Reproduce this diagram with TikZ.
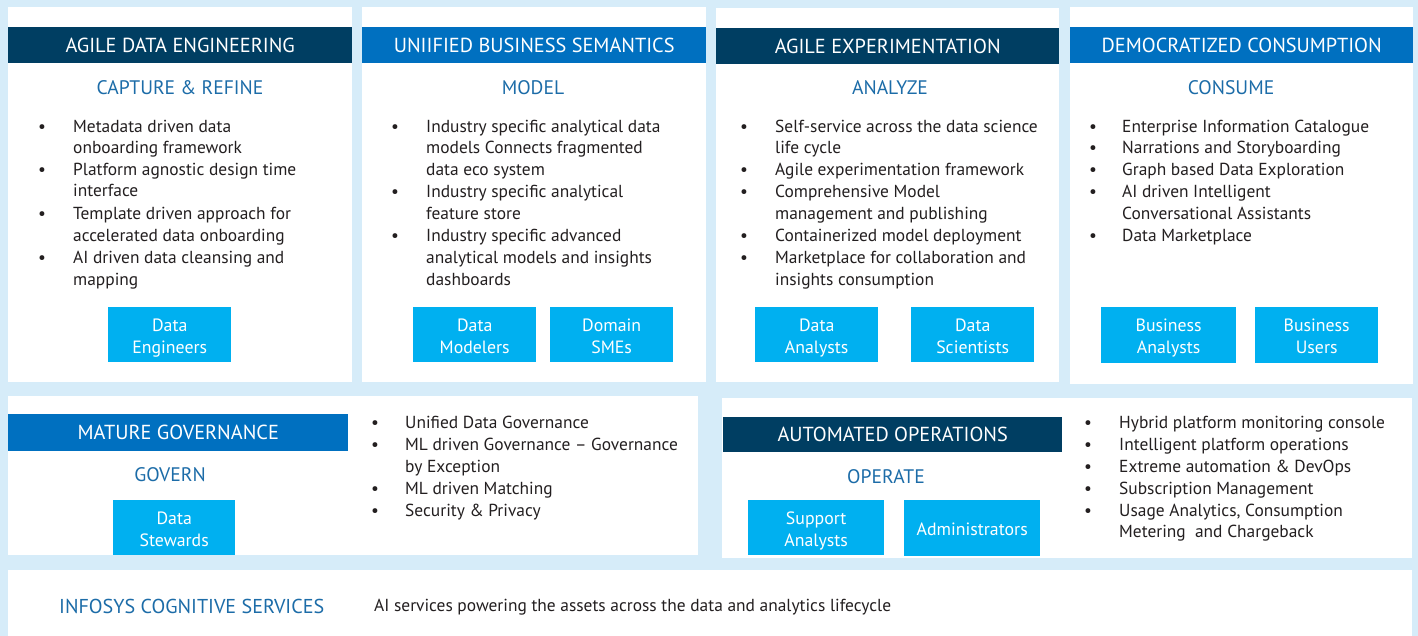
\documentclass[tikz,border=0pt]{standalone}
\usepackage{fontspec}
\setmainfont{PT Sans}
\definecolor{bg}{RGB}{214,236,249}
\definecolor{navy}{RGB}{0,62,98}
\definecolor{hblue}{RGB}{0,112,192}
\definecolor{cyanbox}{RGB}{0,176,240}
\definecolor{subt}{RGB}{28,108,168}
\definecolor{txt}{RGB}{35,31,32}
\newcommand\bul[4]{\node[btxt,anchor=base west] at (#1,#3+7) {\textbullet}; \node[btxt,anchor=base west] at (#2,#3+7) {#4};}
\newcommand\cnl[3]{\node[btxt,anchor=base west] at (#1,#2+7) {#3};}
\newcommand\rolebox[6]{\node[role,minimum width=#3pt,minimum height=#4pt] (#5) at (#1,#2) {};
 \node[roletxt] at ([yshift=-3pt]#5.center) {#6};}
\begin{document}
\begin{tikzpicture}[x=1pt,y=-1pt,
 hdrbox/.style={anchor=north west,inner sep=0pt,text=white,font=\fontsize{20.3}{22}\selectfont},
 navyhdr/.style={hdrbox,fill=navy},
 bluehdr/.style={hdrbox,fill=hblue},
 subtitle/.style={text=subt,font=\fontsize{19.6}{22}\selectfont,inner sep=0pt},
 btxt/.style={text=txt,font=\fontsize{17.4}{20}\selectfont,inner sep=0pt},
 role/.style={anchor=north west,inner sep=0pt,fill=cyanbox},
 roletxt/.style={inner sep=0pt,text=white,align=center,font=\fontsize{17.8}{22}\selectfont},
]
\fill[bg] (0,0) rectangle (1418,636);
\useasboundingbox (0,0) rectangle (1418,636);
% panels
\fill[white] (8,7) rectangle (352,382);
\fill[white] (362,7) rectangle (706,382);
\fill[white] (716,8) rectangle (1059,382);
\fill[white] (1070,7) rectangle (1413,384);
\fill[white] (8,396) rectangle (698,555);
\fill[white] (722,398) rectangle (1412,558);
\fill[white] (8,570) rectangle (1412,636);
% headers
\node[navyhdr,minimum width=344pt,minimum height=36pt] (h1) at (8,27) {AGILE DATA ENGINEERING};
\node[bluehdr,minimum width=344pt,minimum height=36pt] (h2) at (362,27) {UNIIFIED BUSINESS SEMANTICS};
\node[navyhdr,minimum width=343pt,minimum height=36pt] (h3) at (716,28) {AGILE EXPERIMENTATION};
\node[bluehdr,minimum width=343pt,minimum height=36pt] (h4) at (1070,27) {DEMOCRATIZED CONSUMPTION};
\node[bluehdr,minimum width=340pt,minimum height=37pt] (h5) at (8,414) {MATURE GOVERNANCE};
\node[navyhdr,minimum width=339pt,minimum height=35pt] (h6) at (723,417) {AUTOMATED OPERATIONS};
% subtitles
\node[subtitle] (s1) at (180,88) {CAPTURE \& REFINE};
\node[subtitle] (s2) at (533,88) {MODEL};
\node[subtitle] (s3) at (890,88) {ANALYZE};
\node[subtitle] (s4) at (1231,88) {CONSUME};
\node[subtitle] (s5) at (170,475) {GOVERN};
\node[subtitle] (s6) at (886,477) {OPERATE};
\node[subtitle,anchor=west,font=\fontsize{20.1}{22}\selectfont] (s7) at (59,606) {INFOSYS COGNITIVE SERVICES};
\node[btxt,anchor=west] (t7) at (374,607) {AI services powering the assets across the data and analytics lifecycle};
% panel 1 bullets
\bul{38}{73}{126}{Metadata driven data}
\cnl{73}{147}{onboarding framework}
\bul{38}{73}{169}{Platform agnostic design time}
\cnl{73}{190}{interface}
\bul{38}{73}{213}{Template driven approach for}
\cnl{73}{235}{accelerated data onboarding}
\bul{38}{73}{257}{AI driven data cleansing and}
\cnl{73}{278}{mapping}
% panel 2
\bul{391}{426}{126}{Industry specific analytical data}
\cnl{426}{147}{models Connects fragmented}
\cnl{426}{169}{data eco system}
\bul{391}{426}{191}{Industry specific analytical}
\cnl{426}{213}{feature store}
\bul{391}{426}{235}{Industry specific advanced}
\cnl{426}{257}{analytical models and insights}
\cnl{426}{278}{dashboards}
% panel 3
\bul{740}{775}{126}{Self-service across the data science}
\cnl{775}{147}{life cycle}
\bul{740}{775}{169}{Agile experimentation framework}
\bul{740}{775}{191}{Comprehensive Model}
\cnl{775}{213}{management and publishing}
\bul{740}{775}{235}{Containerized model deployment}
\bul{740}{775}{257}{Marketplace for collaboration and}
\cnl{775}{278}{insights consumption}
% panel 4
\bul{1089}{1122}{126}{Enterprise Information Catalogue}
\bul{1089}{1122}{147}{Narrations and Storyboarding}
\bul{1089}{1122}{169}{Graph based Data Exploration}
\bul{1089}{1122}{191}{AI driven Intelligent}
\cnl{1122}{213}{Conversational Assistants}
\bul{1089}{1122}{235}{Data Marketplace}
% governance bullets
\bul{371}{405}{421}{Unified Data Governance}
\bul{371}{405}{443}{ML driven Governance -- Governance}
\cnl{405}{465}{by Exception}
\bul{371}{405}{487}{ML driven Matching}
\bul{371}{405}{509}{Security \& Privacy}
% operations bullets
\bul{1084}{1119}{421}{Hybrid platform monitoring console}
\bul{1084}{1119}{443}{Intelligent platform operations}
\bul{1084}{1119}{465}{Extreme automation \& DevOps}
\bul{1084}{1119}{487}{Subscription Management}
\bul{1084}{1119}{509}{Usage Analytics, Consumption}
\cnl{1119}{530}{Metering\ \ and Chargeback}
% role boxes
\rolebox{108}{307}{123}{55}{r1}{\strut Data\\\strut Engineers}
\rolebox{413}{307}{123}{55}{r2}{\strut Data\\\strut Modelers}
\rolebox{550}{307}{123}{55}{r3}{\strut Domain\\\strut SMEs}
\rolebox{755}{307}{123}{55}{r4}{\strut Data\\\strut Analysts}
\rolebox{911}{307}{123}{55}{r5}{\strut Data\\\strut Scientists}
\rolebox{1101}{307}{135}{56}{r6}{\strut Business\\\strut Analysts}
\rolebox{1255}{307}{123}{56}{r7}{\strut Business\\\strut Users}
\rolebox{113}{500}{122}{55}{r8}{\strut Data\\\strut Stewards}
\rolebox{748}{500}{136}{55}{r9}{\strut Support\\\strut Analysts}
\rolebox{904}{500}{136}{56}{r10}{\strut Administrators}
\end{tikzpicture}
\end{document}
